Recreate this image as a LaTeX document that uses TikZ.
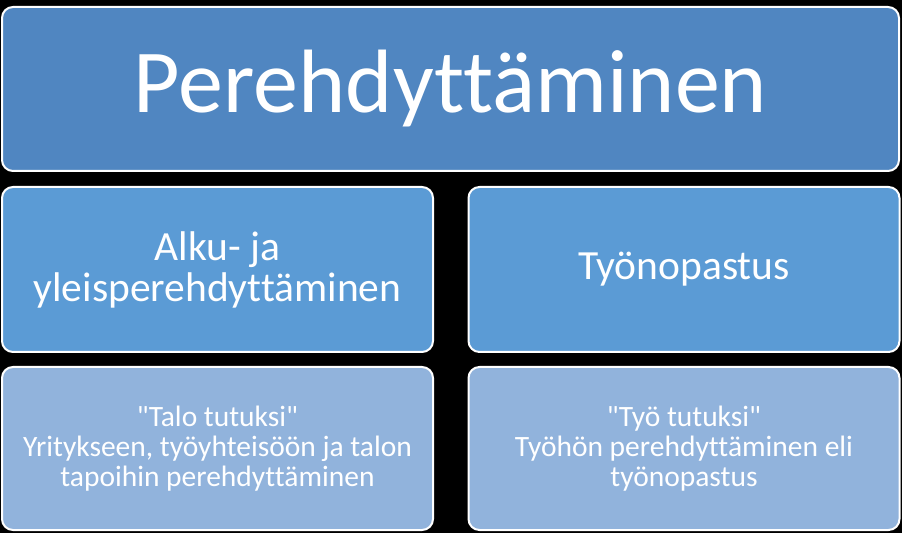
\documentclass[tikz,border=0pt]{standalone}
\usepackage{fontspec}
\setmainfont{Carlito}[Ligatures={NoCommon,TeXOff}]
\definecolor{topc}{RGB}{80,134,193}
\definecolor{midc}{RGB}{91,155,213}
\definecolor{botc}{RGB}{145,179,220}
\begin{document}
\begin{tikzpicture}[x=1pt,y=1pt,
  box/.style={draw=white,line width=2pt,rounded corners=11pt,text=white,align=center,inner sep=0pt},
  topbox/.style={box,fill=topc,minimum width=897pt,minimum height=164pt,font=\fontsize{90}{100}\selectfont},
  midbox/.style={box,fill=midc,minimum width=431pt,minimum height=165pt,font=\fontsize{41.5}{41}\selectfont},
  botbox/.style={box,fill=botc,minimum width=431pt,minimum height=163pt,font=\fontsize{29.5}{30}\selectfont}]
\useasboundingbox (0,0) rectangle (902,533);
\fill[black] (0,0) rectangle (902,533);
\node[topbox] (title) at (450.5,444) {Perehdyttäminen};
\node[midbox] (m1) at (217.5,263.5) {Alku- ja\\yleisperehdyttäminen};
\node[midbox] (m2) at (684,263.5) {Työnopastus};
\node[botbox] (b1) at (217.5,84.5) {"Talo tutuksi"\\Yritykseen, työyhteisöön ja talon\\tapoihin perehdyttäminen};
\node[botbox] (b2) at (684,84.5) {"Työ tutuksi"\\Työhön perehdyttäminen eli\\työnopastus};
\end{tikzpicture}
\end{document}
